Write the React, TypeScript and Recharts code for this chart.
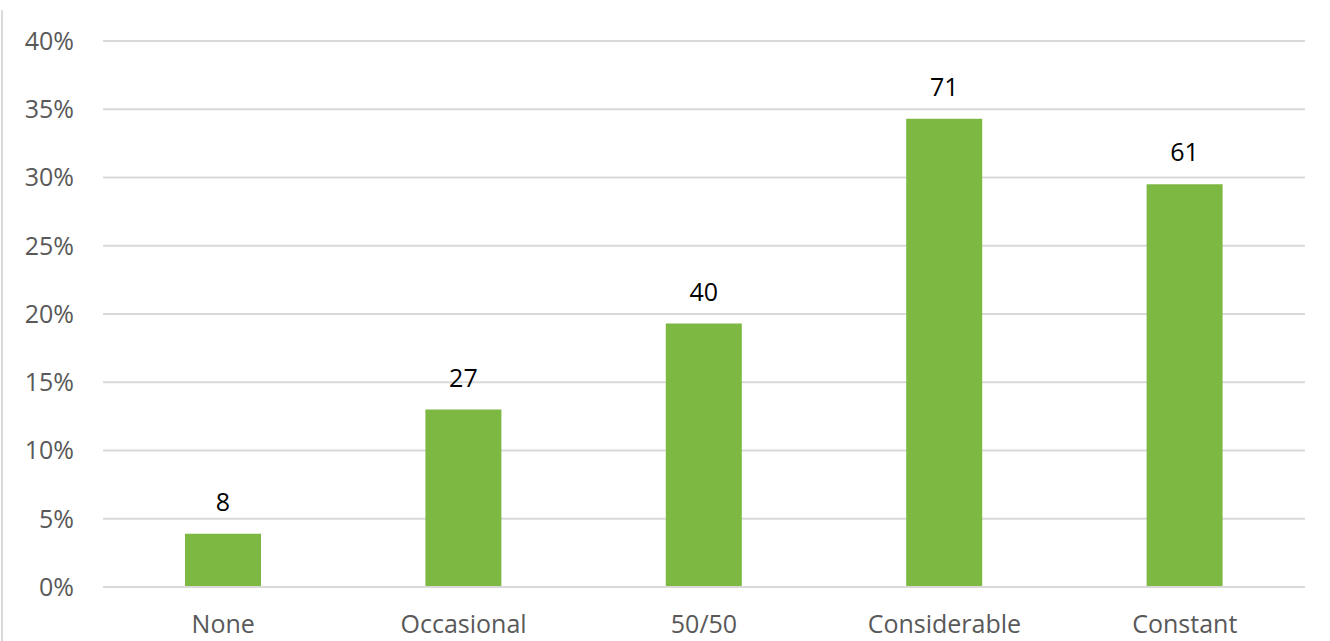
import { BarChart, Bar, XAxis, YAxis, CartesianGrid, LabelList } from "recharts";

// answers per category
const categories = ["None", "Occasional", "50/50", "Considerable", "Constant"];
const shares = [3.9, 13.0, 19.3, 34.3, 29.5]; // percent of respondents
const counts = [8, 27, 40, 71, 61]; // shown above each bar
const yTicks = [0, 5, 10, 15, 20, 25, 30, 35, 40];

const data = categories.map((name, i) => ({ name, share: shares[i], count: counts[i] }));

const FONT = "'Open Sans', sans-serif";

export default function App() {
  return (
    <div style={{ position: "absolute", left: 0, top: 0, width: 1330, height: 641, background: "#fff", fontFamily: FONT }}>
      <div style={{ position: "absolute", left: 1, top: 10, bottom: 0, width: 2, background: "#d9d9d9" }} />
      <BarChart width={1330} height={641} data={data} margin={{ top: 41, right: 25, left: 0, bottom: 0 }} barSize={76}>
        <CartesianGrid vertical={false} stroke="#d9d9d9" strokeWidth={2} />
        <XAxis dataKey="name" height={54} axisLine={{ stroke: "#d9d9d9", strokeWidth: 2 }} tickLine={false}
          tickSize={0} tickMargin={28} tick={{ fill: "#595959", fontSize: 25, fontFamily: FONT }} />
        <YAxis domain={[0, 40]} ticks={yTicks} width={103} axisLine={false} tickLine={false}
          tickSize={0} tickMargin={29} tickFormatter={(v: number) => `${v}%`}
          tick={{ fill: "#595959", fontSize: 25, fontFamily: FONT }} />
        <Bar dataKey="share" fill="#7db843" isAnimationActive={false}>
          <LabelList dataKey="count" position="top" offset={23} fill="#000" fontSize={25} fontFamily={FONT} />
        </Bar>
      </BarChart>
    </div>
  );
}
